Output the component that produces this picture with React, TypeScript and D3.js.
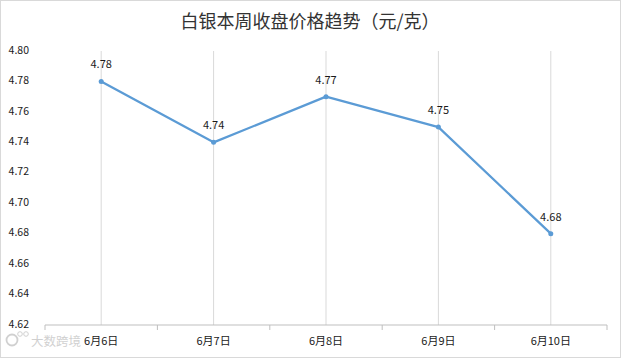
import React from "react";
import * as d3 from "d3";

const categories = ["6月6日", "6月7日", "6月8日", "6月9日", "6月10日"];
const prices = [4.78, 4.74, 4.77, 4.75, 4.68];
const yTicks = [4.62, 4.64, 4.66, 4.68, 4.7, 4.72, 4.74, 4.76, 4.78, 4.8];
const title = "白银本周收盘价格趋势（元/克）";
const watermark = "大数跨境";

const W = 621;
const H = 358;
const left = 45;
const right = 607;
const top = 51;
const bottom = 325;
const font = "'Noto Sans CJK SC', 'Liberation Sans', sans-serif";

export default function App() {
  const x = d3.scaleBand<string>().domain(categories).range([left, right]).padding(0);
  const y = d3.scaleLinear().domain([4.62, 4.8]).range([bottom, top]);
  const cx = (c: string) => (x(c) as number) + x.bandwidth() / 2;
  const line = d3
    .line<number>()
    .x((_, i) => cx(categories[i]))
    .y((d) => y(d));
  const boundaries = categories.map((c) => x(c) as number).concat([right]);

  return (
    <svg
      width={W}
      height={H}
      style={{ position: "absolute", left: 0, top: 0, background: "#fff" }}
      fontFamily={font}
    >
      <rect x={0.5} y={0.5} width={W - 1} height={H - 1} fill="#fff" stroke="#d9d9d9" />
      <text x={310} y={28} textAnchor="middle" fontSize={18} fill="#333">
        {title}
      </text>
      {categories.map((c) => (
        <line key={c} x1={cx(c)} x2={cx(c)} y1={top} y2={bottom} stroke="#d9d9d9" strokeWidth={1} />
      ))}
      {yTicks.map((t) => (
        <text key={t} x={29} y={y(t) - 1} dy="0.35em" textAnchor="end" fontSize={10.5} fill="#1a1a1a">
          {t.toFixed(2)}
        </text>
      ))}
      <line x1={left} x2={right} y1={bottom} y2={bottom} stroke="#bfbfbf" strokeWidth={1} />
      {boundaries.map((b, i) => (
        <line key={i} x1={b} x2={b} y1={bottom} y2={bottom + 5} stroke="#bfbfbf" strokeWidth={1} />
      ))}
      {categories.map((c) => (
        <text key={c} x={cx(c)} y={345} textAnchor="middle" fontSize={11} fill="#1a1a1a">
          {c}
        </text>
      ))}
      <path d={line(prices) || ""} fill="none" stroke="#5b9bd5" strokeWidth={2.25} strokeLinejoin="round" />
      {prices.map((p, i) => (
        <circle key={i} cx={cx(categories[i])} cy={y(p)} r={2.5} fill="#5b9bd5" />
      ))}
      {prices.map((p, i) => (
        <text key={i} x={cx(categories[i])} y={y(p) - 13} textAnchor="middle" fontSize={11} fill="#1a1a1a">
          {p.toFixed(2)}
        </text>
      ))}
      <g opacity={0.45}>
        <circle cx={12} cy={340} r={5.5} fill="none" stroke="#999" strokeWidth={1.8} />
        <circle cx={20} cy={334} r={2.3} fill="none" stroke="#999" strokeWidth={1} />
        <circle cx={26} cy={334} r={2.3} fill="none" stroke="#999" strokeWidth={1} />
        <text x={31} y={346} fontSize={12.5} fill="#999">
          {watermark}
        </text>
      </g>
    </svg>
  );
}
